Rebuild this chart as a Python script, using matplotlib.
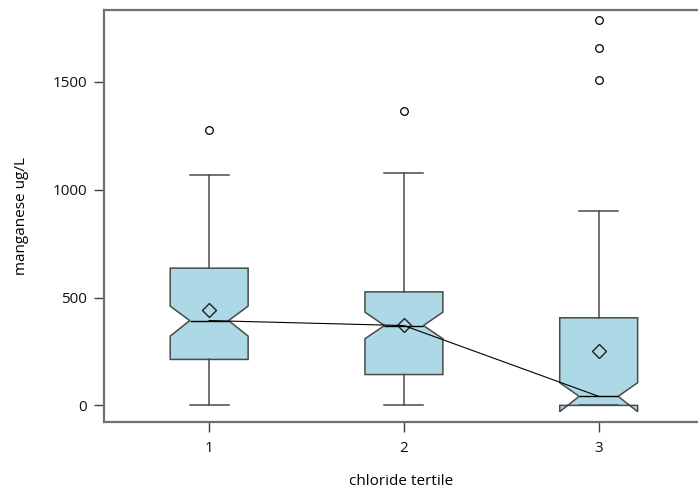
import matplotlib
matplotlib.use("Agg")
import matplotlib.pyplot as plt

# Summary statistics of manganese (ug/L) per chloride tertile
tertiles = ["1", "2", "3"]
q1 = [213, 143, 0]
median = [393, 370, 42]
q3 = [636, 526, 406]
ci_low = [321, 309, -29]
ci_high = [460, 432, 105]
whisker_low = [0, 0, 0]
whisker_high = [1066, 1077, 903]
means = [440, 374, 251]
outliers = [[1278], [1366], [1506, 1656, 1787]]

plt.rcParams["font.family"] = ["Open Sans", "DejaVu Sans"]

fig = plt.figure(figsize=(6.98, 4.93), dpi=100)
ax = fig.add_axes([0.149, 0.144, 0.851, 0.836])

stats = []
for i, name in enumerate(tertiles):
    stats.append(dict(label=name, q1=q1[i], med=median[i], q3=q3[i],
                      cilo=ci_low[i], cihi=ci_high[i],
                      whislo=whisker_low[i], whishi=whisker_high[i],
                      mean=means[i], fliers=outliers[i]))

positions = [1, 2, 3]
edge = "#4a4a4a"
ax.bxp(stats, positions=positions, widths=0.4, shownotches=True, patch_artist=True,
       showmeans=True,
       boxprops=dict(facecolor="#add8e6", edgecolor=edge, linewidth=1.1),
       whiskerprops=dict(color=edge, linewidth=1.1),
       capprops=dict(color=edge, linewidth=1.1),
       medianprops=dict(color="black", linewidth=1.0),
       meanprops=dict(marker="D", markerfacecolor="none", markeredgecolor="#222222",
                      markersize=7, markeredgewidth=1.0),
       flierprops=dict(marker="o", markerfacecolor="none", markeredgecolor="black",
                       markersize=5.5, markeredgewidth=0.9))

# line joining the group medians
ax.plot(positions, median, color="black", linewidth=0.8, zorder=4)

ax.set_xlim(0.46, 3.51)
ax.set_ylim(-77, 1833)
ax.set_yticks([0, 500, 1000, 1500])
ax.set_xticks(positions)
ax.set_xticklabels(tertiles)

for side in ["left", "top", "bottom"]:
    ax.spines[side].set_color("#707070")
    ax.spines[side].set_linewidth(1.6)
ax.spines["right"].set_visible(False)

ax.tick_params(axis="both", direction="out", length=7, width=1.0, color="#404040",
               labelsize=11, labelcolor="#111111", pad=5)
ax.tick_params(axis="x", pad=6.5)

ax.set_xlabel("chloride tertile", fontsize=11, labelpad=13)
ax.set_ylabel("manganese ug/L", fontsize=11, labelpad=17)

fig.savefig("out.png", dpi=100)
